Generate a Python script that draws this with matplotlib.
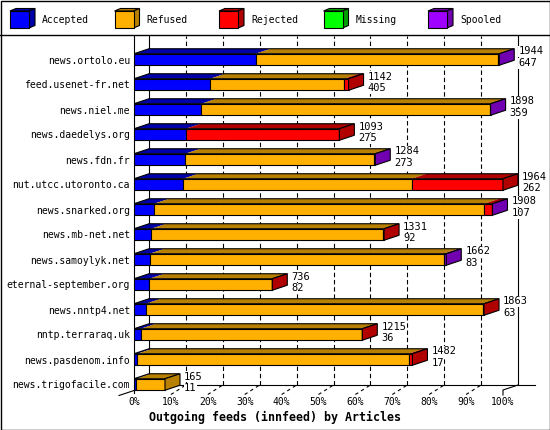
import numpy as np
import matplotlib.pyplot as plt
from matplotlib.patches import Polygon, Rectangle

plt.rcParams['font.family'] = ['DejaVu Sans Mono']

hosts = ['news.ortolo.eu', 'feed.usenet-fr.net', 'news.niel.me', 'news.daedelys.org',
         'news.fdn.fr', 'nut.utcc.utoronto.ca', 'news.snarked.org', 'news.mb-net.net',
         'news.samoylyk.net', 'eternal-september.org', 'news.nntp4.net', 'nntp.terraraq.uk',
         'news.pasdenom.info', 'news.trigofacile.com']
accepted = [647, 405, 359, 275, 273, 262, 107, 92, 83, 82, 63, 36, 17, 11]
refused = [1289, 713, 1534, 0, 1007, 1216, 1757, 1235, 1565, 651, 1797, 1176, 1445, 154]
rejected = [0, 24, 0, 818, 0, 486, 40, 4, 0, 3, 3, 3, 20, 0]
missing = [0, 0, 0, 0, 0, 0, 0, 0, 0, 0, 0, 0, 0, 0]
spooled = [8, 0, 5, 0, 4, 0, 4, 0, 14, 0, 0, 0, 0, 0]
offered = [1944, 1142, 1898, 1093, 1284, 1964, 1908, 1331, 1662, 736, 1863, 1215, 1482, 165]

series = ['Accepted', 'Refused', 'Rejected', 'Missing', 'Spooled']
front = ['#0000ff', '#ffb000', '#ff0000', '#00ff00', '#a000ff']
dark = ['#0000a8', '#b88000', '#b00000', '#00a000', '#7000b0']
ticks = list(range(0, 101, 10))

W, H = 550, 430
fig = plt.figure(figsize=(5.5, 4.3), dpi=100)

# background layer in pixels: frame + legend + title
bg = fig.add_axes([0, 0, 1, 1], zorder=0)
bg.set_xlim(0, W)
bg.set_ylim(H, 0)
bg.axis('off')
bg.add_patch(Rectangle((0.5, 0.5), W - 1, H - 1, fill=False, ec='k', lw=1))
bg.plot([0, W], [35, 35], color='k', lw=1)
for j, name in enumerate(series):
    x0 = 10 + 104.5 * j
    bg.add_patch(Polygon([(x0, 11), (x0 + 19, 11), (x0 + 25, 8.5), (x0 + 6, 8.5)],
                         closed=True, fc=dark[j], ec='k', lw=0.8))
    bg.add_patch(Polygon([(x0 + 19, 11), (x0 + 19, 28), (x0 + 25, 25.5), (x0 + 25, 8.5)],
                         closed=True, fc=dark[j], ec='k', lw=0.8))
    bg.add_patch(Rectangle((x0, 11), 19, 17, fc=front[j], ec='k', lw=0.8))
    bg.text(x0 + 32, 20, name, fontsize=7, va='center', ha='left')

fig.text(275 / W, 1 - 417 / H, 'Outgoing feeds (innfeed) by Articles',
         fontsize=8.4, fontweight='bold', ha='center', va='center')

# main plot
pxp = 3.69      # px per percent
pitch = 25.0    # px per row
ax = fig.add_axes([134 / W, 1 - 395 / H, (540 - 134) / W, (395 - 36) / H], zorder=1)
ax.patch.set_visible(False)
ax.set_xlim(0, (540 - 134) / pxp)
ax.set_ylim((395 - 59.5) / pitch, (36 - 59.5) / pitch)
for s in ax.spines.values():
    s.set_visible(False)

dx = 15 / pxp
dy = -5 / pitch
h = 11.5 / pitch
ytop = (36 - 59.5) / pitch
yfloor = (385 - 59.5) / pitch
yfront = (390 - 59.5) / pitch
ybot = (395 - 59.5) / pitch

# walls, grid and floor
for t in ticks[1:-1]:
    ax.plot([t + dx, t + dx], [yfloor, ytop], color='k', lw=0.8, ls=(0, (4, 2.5)), zorder=1)
    ax.plot([t, t + dx], [ybot - 0.02, yfloor], color='k', lw=0.8, ls=(0, (3, 3)), zorder=1,
            clip_on=False)
ax.plot([dx, dx], [yfloor, ytop], color='k', lw=0.8, zorder=1)
ax.plot([100 + dx, 100 + dx], [yfloor, ytop], color='k', lw=0.8, zorder=1)
ax.plot([0, 0], [ybot - 0.08, ytop], color='k', lw=0.8, zorder=1, clip_on=False)
ax.plot([dx, (535 - 134) / pxp], [yfloor, yfloor], color='k', lw=0.8, zorder=1, clip_on=False)
ax.plot([100, 100, 100 + dx], [ybot, yfront, yfloor], color='k', lw=0.8, zorder=1, clip_on=False)
ax.plot([-dx, 0], [ybot + 0.02, yfront + 0.02], color='k', lw=0.8, zorder=1, clip_on=False)

# 3d bars
mx = max(offered)
data = [accepted, refused, rejected, missing, spooled]
for i in range(len(hosts)):
    left = 0
    last = 0
    yt = i - h / 2
    for k in range(5):
        v = data[k][i]
        if v <= 0:
            continue
        x0 = left / mx * 100
        x1 = (left + v) / mx * 100
        ax.barh(i, x1 - x0, left=x0, height=h, color=front[k], edgecolor='k', lw=0.8, zorder=3)
        ax.add_patch(Polygon([(x0, yt), (x1, yt), (x1 + dx, yt + dy), (x0 + dx, yt + dy)],
                             closed=True, fc=dark[k], ec='none', zorder=3))
        left += v
        last = k
    xe = left / mx * 100
    ax.add_patch(Polygon([(0, yt), (xe, yt), (xe + dx, yt + dy), (dx, yt + dy)],
                         closed=True, fill=False, ec='k', lw=0.8, zorder=4))
    ax.add_patch(Polygon([(xe, i + h / 2), (xe, yt), (xe + dx, yt + dy), (xe + dx, i + h / 2 + dy)],
                         closed=True, fc=dark[last], ec='k', lw=0.8, zorder=4))
    ax.text(xe + dx + 4 / pxp, i - 0.32, str(offered[i]), fontsize=7.5, va='center', ha='left',
            zorder=5, bbox=dict(fc='white', ec='none', pad=0.3), clip_on=False)
    ax.text(xe + dx + 4 / pxp, i + 0.15, str(accepted[i]), fontsize=7.5, va='center', ha='left',
            zorder=5, bbox=dict(fc='white', ec='none', pad=0.3), clip_on=False)

ax.set_yticks(range(len(hosts)))
ax.set_yticklabels(hosts, fontsize=7)
ax.set_xticks(ticks)
ax.set_xticklabels(['%d%%' % t for t in ticks], fontsize=7)
ax.tick_params(axis='y', length=0, pad=2.9)
ax.tick_params(axis='x', length=0, pad=1.5)

plt.savefig('out.png', dpi=100)
